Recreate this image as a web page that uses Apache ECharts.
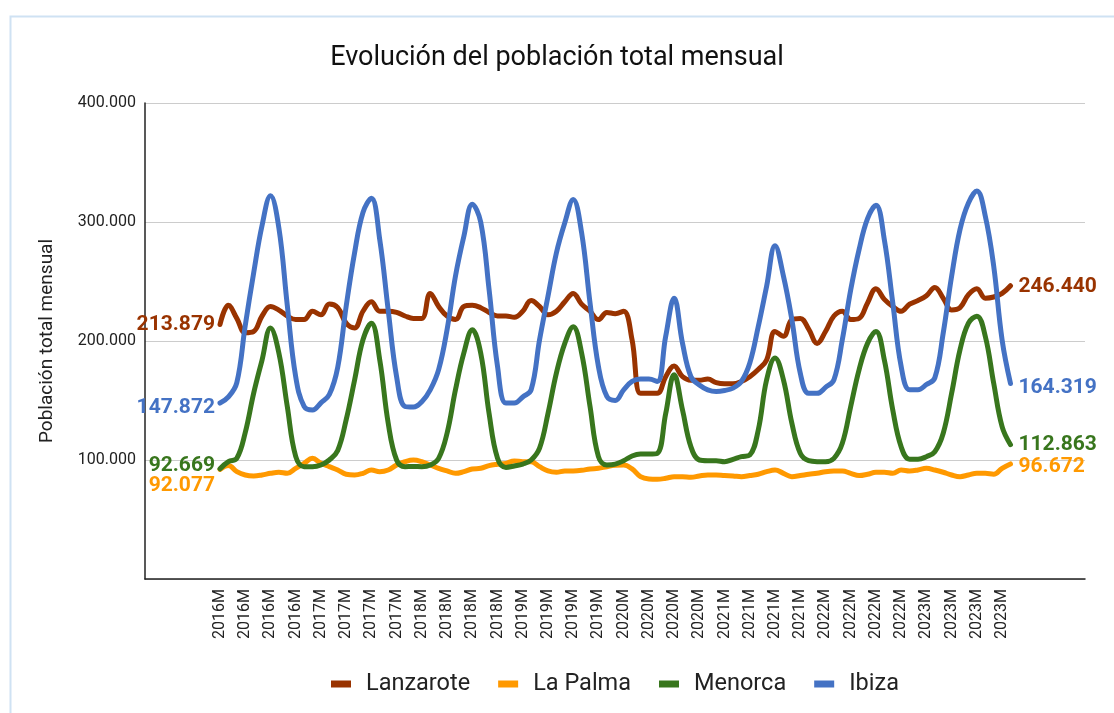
<!DOCTYPE html>
<html>
<head>
<meta charset="utf-8">
<script src="https://cdn.jsdelivr.net/npm/echarts@6/dist/echarts.min.js"></script>
<style>
html,body{margin:0;padding:0;background:#fff;}
#chart{width:1114px;height:713px;}
</style>
</head>
<body>
<div id="chart"></div>
<script>
// Monthly categories 2016M01 .. 2023M11 (axis shows the first 5 characters)
const years = ['2016','2017','2018','2019','2020','2021','2022','2023'];
const months = ['01','02','03','04','05','06','07','08','09','10','11','12'];
const categories = years.flatMap(y => months.map(m => y + 'M' + m)).slice(0, 95);

// Values in thousands (axis labels "100.000" = 100 thousand)
const lanzarote = [
  213.879,230,219,207,208,221,229,226,221,218,218,225,
  222,231,228,215,211,225,233,225,225,224,221,219,
  219,240,229,221,218,229,230,228,224,221,221,220,
  225,234,229,222,225,233,240,231,225,218,224,223,
  225,201,156,156,156,170,179,170,167,167,168,165,
  164,164,166,170,176,184,208,204,218,219,210,198,
  208,221,225,218,219,232,244,235,229,225,231,234,
  238,245,236,226,228,239,244,236,237,240,246.440
];
const laPalma = [
  92.077,95.3,90.2,87.4,86.6,87.4,88.8,89.7,88.8,93,97.2,101.4,
  97.2,94.4,91.6,88,87.4,88.8,91.6,90.2,91.6,95.8,98.6,100,
  98.6,95.8,93,90.8,88.8,90.2,92.5,93,95.3,96.4,97.2,99.2,
  98.6,98.6,94.4,90.8,89.7,90.8,90.8,91.3,92.5,93,94.4,95.5,
  95.8,92.5,86,84,83.8,84.6,86,86,85.5,86.6,87.4,87.4,
  86.9,86.6,86,86.9,88,90.2,91.6,88.8,86,86.9,88,88.8,
  90.2,90.8,90.8,88.8,86.9,88,89.7,89.7,88.8,91.6,90.8,91.6,
  93,91.6,89.7,87.4,86,87.4,88.8,88.8,88,93,96.672
];
const menorca = [
  92.669,98.6,101.4,123,156,184,211,190,145,103,94.4,94.4,
  95.8,100,108,133.7,167,201,215,184,131,100,94.4,94.5,
  94.4,95.8,101.4,122.5,159,190,209.5,190,139,101.4,93.8,95,
  96.6,100,110,139,173,198,212,190,145,102.8,95.8,96.5,
  99.4,103.4,105,105,105.6,139,171.6,142,111,100,99.4,99.4,
  98.6,100.6,102.8,104.2,125,167.4,185.7,167.4,131,105.6,99.4,98.6,
  98.6,101.4,114,145,176,198,208,184,142,111,100.6,100.6,
  102.8,107,122.5,156,192.7,215,220.8,204,164.6,128,112.863
];
const ibiza = [
  147.872,153,165,213,257,297,322,295,230,170,145,142,
  148,155,178,229,274,308,320,285,226,170,145,144.5,
  149,159,176,209.5,254.5,288,315,300,243,178.6,147.8,147.8,
  153,159,201,237.6,274,299.4,319,291,232,178.6,153.4,150,
  159,166,168,168,166,204,236,198,170,163,159,157.6,
  158.4,160.4,166,181.5,212,246,280,254.5,218,173,156,156,
  161,167.4,201,243,277,302.8,314,285,232,178.6,159,159,
  163.4,169,206.7,254.5,293.8,316,326,305,263,201,164.319
];
const yTicks = [0, 100, 200, 300, 400];

const seriesDefs = [
  {name:'Lanzarote', data:lanzarote, color:'#993300', startDy:0, endDy:1},
  {name:'La Palma', data:laPalma, color:'#ff9900', startDy:16, endDy:3},
  {name:'Menorca', data:menorca, color:'#38761d', startDy:-3, endDy:0},
  {name:'Ibiza', data:ibiza, color:'#4472c4', startDy:5, endDy:4}
];

const labelFont = {fontFamily:'Roboto', fontSize:21, fontWeight:'bold'};

function buildData(def){
  const last = def.data.length - 1;
  return def.data.map((v, i) => {
    if (i === 0) return {value:v, label:Object.assign({show:true, position:'left', distance:5, color:def.color, formatter:p => p.value.toFixed(3)}, labelFont)};
    if (i === last) return {value:v, label:Object.assign({show:true, position:'right', distance:8, color:def.color, formatter:p => p.value.toFixed(3)}, labelFont)};
    return v;
  });
}

const chart = echarts.init(document.getElementById('chart'), null, {renderer:'canvas'});
const option = {
  backgroundColor:'#ffffff',
  animation:false,
  textStyle:{fontFamily:'Roboto'},
  title:{
    text:'Evolución del población total mensual',
    left:'center', top:40,
    textStyle:{fontFamily:'Roboto', fontSize:27, fontWeight:'normal', color:'#111'}
  },
  graphic:[{
    type:'rect', left:8, top:14, silent:true,
    shape:{width:1120, height:720},
    style:{fill:'none', stroke:'#cfe2f3', lineWidth:2}
  }],
  legend:{
    left:326, top:667,
    icon:'rect', itemWidth:20, itemHeight:7, itemGap:28,
    textStyle:{fontFamily:'Roboto', fontSize:23.5, color:'#222', padding:[0,0,0,10]},
    data:seriesDefs.map(d => d.name)
  },
  grid:[
    {left:145, right:29, top:103, bottom:134},
    {left:220, right:103.5, top:103, bottom:134}
  ],
  xAxis:[
    {type:'value', gridIndex:0, min:0, max:1, axisLine:{show:true, lineStyle:{color:'#222', width:1.5}},
     axisTick:{show:false}, axisLabel:{show:false}, splitLine:{show:false}},
    {type:'category', gridIndex:1, data:categories, boundaryGap:false,
     axisLine:{show:false}, axisTick:{show:false}, splitLine:{show:false},
     axisLabel:{interval:2, rotate:90, margin:10, fontFamily:'Roboto', fontSize:16, color:'#222',
       formatter:v => v.slice(0,5)}}
  ],
  yAxis:[
    {type:'value', gridIndex:0, min:yTicks[0], max:yTicks[yTicks.length-1], interval:100,
     name:'Población total mensual', nameLocation:'middle', nameGap:88, nameRotate:90,
     nameTextStyle:{fontFamily:'Roboto', fontSize:19, color:'#222'},
     axisLine:{show:true, lineStyle:{color:'#222', width:1.5}}, axisTick:{show:false},
     axisLabel:{margin:9, fontFamily:'Roboto', fontSize:16, color:'#222',
       formatter:v => v === 0 ? '' : v.toFixed(3)},
     splitLine:{show:true, lineStyle:{color:'#cccccc', width:1}}},
    {type:'value', gridIndex:1, min:yTicks[0], max:yTicks[yTicks.length-1], show:false, splitLine:{show:false}}
  ],
  series:seriesDefs.map(d => ({
    name:d.name, type:'line', xAxisIndex:1, yAxisIndex:1,
    data:buildData(d), smooth:0.4,
    symbol:'circle', symbolSize:0.01, showSymbol:true, showAllSymbol:true,
    color:d.color,
    lineStyle:{color:d.color, width:5, cap:'round', join:'round'},
    itemStyle:{color:d.color},
    labelLayout:function(params){
      const last = d.data.length - 1;
      if (params.dataIndex === 0) return {dy:d.startDy, hideOverlap:false};
      if (params.dataIndex === last) return {dy:d.endDy, hideOverlap:false};
      return {hideOverlap:false};
    },
    z:2
  }))
};
chart.setOption(option);
</script>
</body>
</html>
